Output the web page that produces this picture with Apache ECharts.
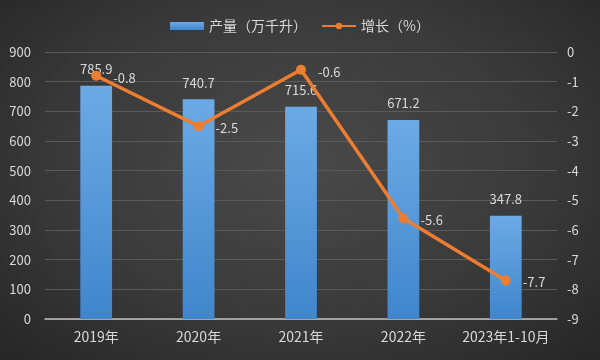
<!DOCTYPE html>
<html><head><meta charset="utf-8">
<script src="https://cdn.jsdelivr.net/npm/echarts@6/dist/echarts.min.js"></script>
<style>html,body{margin:0;padding:0;}#c{width:600px;height:360px;background:radial-gradient(ellipse at 50% 45%,#4a4a4a 0%,#3a3a3a 55%,#262626 100%);}</style>
</head><body><div id="c"></div>
<script>
const categories = ['2019年','2020年','2021年','2022年','2023年1-10月'];
const production = [785.9, 740.7, 715.6, 671.2, 347.8];
const growth = [-0.8, -2.5, -0.6, -5.6, -7.7];
const leftTicks = {min:0, max:900, interval:100};
const rightTicks = {min:-9, max:0, interval:1};

const chart = echarts.init(document.getElementById('c'), null, {renderer:'canvas'});
const txt = '#d9d9d9';
const font = '"Noto Sans CJK SC", "Microsoft YaHei", sans-serif';
chart.setOption({
  backgroundColor: 'transparent',
  textStyle: {fontFamily: font},
  legend: {
    top: 14, left: 'center', itemGap: 14, itemWidth: 34, itemHeight: 8,
    textStyle: {color: txt, fontSize: 14, fontFamily: font},
    data: [{name:'产量（万千升）', icon:'rect'}, {name:'增长（%）'}]
  },
  grid: {left: 45, right: 43, top: 52, bottom: 41},
  xAxis: {
    type: 'category', data: categories,
    axisLine: {lineStyle: {color: '#bfbfbf', width: 1.5}},
    axisTick: {show: false},
    axisLabel: {color: txt, fontSize: 14, margin: 11, interval: 0, fontFamily: font}
  },
  yAxis: [
    {type: 'value', min: leftTicks.min, max: leftTicks.max, interval: leftTicks.interval,
     axisLine: {show: false}, axisTick: {show: false},
     axisLabel: {color: txt, fontSize: 13, margin: 14, fontFamily: font},
     splitLine: {lineStyle: {color: '#5a5a5a', width: 1}}},
    {type: 'value', min: rightTicks.min, max: rightTicks.max, interval: rightTicks.interval,
     axisLine: {show: false}, axisTick: {show: false},
     axisLabel: {color: txt, fontSize: 13, margin: 10, fontFamily: font},
     splitLine: {show: false}}
  ],
  series: [
    {name: '产量（万千升）', type: 'bar', data: production, barWidth: '31%',
     itemStyle: {color: new echarts.graphic.LinearGradient(0,0,0,1,[{offset:0,color:'#6caae6'},{offset:1,color:'#3f86cc'}])},
     label: {show: true, position: 'top', color: txt, fontSize: 13, distance: 10, fontFamily: font}},
    {name: '增长（%）', type: 'line', yAxisIndex: 1, data: growth,
     symbol: 'circle', symbolSize: 10,
     lineStyle: {color: '#ed7d31', width: 3.5},
     itemStyle: {color: '#ed7d31'},
     labelLayout: {dy: 2},
     label: {show: true, position: 'right', color: txt, fontSize: 13, distance: 12, fontFamily: font}}
  ]
});
</script></body></html>
